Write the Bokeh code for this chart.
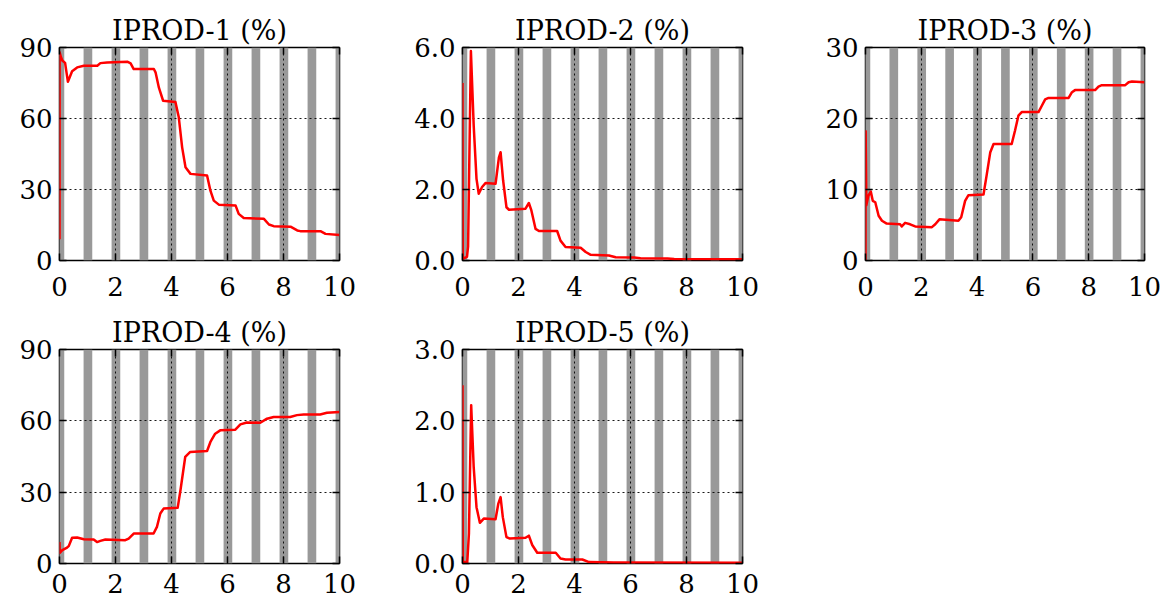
from bokeh.plotting import figure
from bokeh.models import Range1d, FixedTicker, LinearAxis, PrintfTickFormatter, CustomJSTickFormatter
from bokeh.layouts import column, row
from bokeh.embed import file_html
from bokeh.resources import INLINE

FONT = "DejaVu Serif"

# cycle (shaded period) start times
cycles = [0, 1, 2, 3, 4, 5, 6, 7, 8, 9, 10]
x_ticks = [0, 2, 4, 6, 8, 10]

p1_t = [0, 0.005, 0.05, 0.1, 0.2, 0.3, 0.45, 0.63, 0.87, 1.35, 1.46, 1.7, 2.42, 2.54, 2.65,
        3.37, 3.43, 3.55, 3.7, 4.14, 4.26, 4.38, 4.5, 4.68, 5.27, 5.39, 5.51, 5.69, 6.29, 6.4,
        6.58, 7.3, 7.48, 7.65, 8.25, 8.49, 8.6, 9.32, 9.5, 10]
p1_y = [9, 88, 86, 84.5, 83.5, 75.5, 80, 81.6, 82.3, 82.3, 83.4, 83.7, 84, 83.3, 80.9,
        80.9, 79.5, 73, 67.5, 67, 60.5, 47.8, 39.4, 36.6, 35.9, 29.5, 25.3, 23.6, 23.2, 19.7,
        18, 17.6, 15.2, 14.5, 14.3, 12.7, 12.4, 12.4, 11.25, 10.8]

p2_t = [0, 0.01, 0.16, 0.2, 0.3, 0.4, 0.5, 0.58, 0.7, 0.82, 1.18, 1.3, 1.36, 1.45, 1.57,
        1.66, 2.25, 2.37, 2.46, 2.61, 2.73, 3.38, 3.5, 3.68, 4.22, 4.4, 4.58, 5.23, 5.47, 6.13,
        6.36, 7.32, 7.56, 10]
p2_y = [5.0, 0.05, 0.1, 0.4, 5.9, 3.8, 2.3, 1.88, 2.07, 2.18, 2.16, 2.9, 3.05, 2.26, 1.5,
        1.43, 1.46, 1.62, 1.41, 0.89, 0.83, 0.83, 0.56, 0.38, 0.36, 0.24, 0.16, 0.14, 0.09, 0.085,
        0.066, 0.056, 0.04, 0.035]

p3_t = [0, 0.005, 0.03, 0.1, 0.19, 0.26, 0.35, 0.47, 0.59, 0.76, 1.24, 1.3, 1.42, 1.6, 1.78,
        2.38, 2.5, 2.65, 3.33, 3.43, 3.57, 3.69, 4.23, 4.35, 4.47, 4.59, 5.24, 5.36, 5.48, 5.6,
        6.2, 6.32, 6.44, 6.56, 7.28, 7.4, 7.51, 8.23, 8.35, 8.47, 9.31, 9.43, 9.55, 10]
p3_y = [0, 18.2, 7.8, 9.1, 9.7, 8.4, 8.2, 6.3, 5.6, 5.2, 5.1, 4.8, 5.3, 5.1, 4.8,
        4.7, 5.1, 5.8, 5.6, 6.1, 8.4, 9.2, 9.3, 12.2, 15.2, 16.4, 16.4, 18.3, 20.4, 20.9,
        20.9, 21.8, 22.7, 22.9, 22.9, 23.7, 24.0, 24.0, 24.5, 24.7, 24.7, 25.1, 25.2, 25.1]

p4_t = [0, 0.01, 0.1, 0.27, 0.33, 0.45, 0.63, 0.87, 1.22, 1.34, 1.46, 1.64, 2.35, 2.47, 2.65,
        3.36, 3.48, 3.6, 3.72, 4.22, 4.32, 4.49, 4.67, 5.27, 5.39, 5.56, 5.74, 6.28, 6.46, 6.69,
        7.17, 7.41, 7.65, 8.24, 8.48, 8.72, 9.31, 9.55, 10]
p4_y = [9, 4.5, 5.6, 6.7, 7.3, 10.8, 10.9, 10.2, 10.1, 9.0, 9.5, 10.1, 9.8, 10.5, 12.6,
        12.6, 15.4, 21, 23.1, 23.4, 30.8, 44.8, 46.9, 47.3, 51.1, 54.6, 56, 56.3, 58.5, 59.3,
        59.2, 60.9, 61.6, 61.6, 62.4, 62.7, 62.7, 63.4, 63.7]

p5_t = [0, 0.01, 0.17, 0.23, 0.31, 0.4, 0.5, 0.62, 0.76, 1.18, 1.28, 1.36, 1.44, 1.57, 1.69,
        2.25, 2.37, 2.49, 2.67, 3.33, 3.5, 3.68, 4.28, 4.52, 5.41, 10]
p5_y = [2.5, 0.02, 0.02, 0.42, 2.22, 1.35, 0.79, 0.57, 0.63, 0.62, 0.84, 0.93, 0.65, 0.37, 0.35,
        0.36, 0.39, 0.26, 0.15, 0.15, 0.07, 0.056, 0.056, 0.02, 0.014, 0.01]

titles = ["IPROD-1 (%)", "IPROD-2 (%)", "IPROD-3 (%)", "IPROD-4 (%)", "IPROD-5 (%)"]
y_maxes = [90, 6, 30, 90, 3]
y_ticks = [[0, 30, 60, 90], [0, 2, 4, 6], [0, 10, 20, 30], [0, 30, 60, 90], [0, 1, 2, 3]]
y_fmts = ["%d", "%.1f", "%d", "%d", "%.1f"]


def panel(title, t, y, ymax, yticks, yfmt, w, bl, br, h, bt, bb, xstand):
    p = figure(width=w, height=h, x_range=Range1d(0, 10), y_range=Range1d(0, ymax),
               output_backend="svg", toolbar_location=None,
               min_border_left=bl, min_border_right=br, min_border_top=bt, min_border_bottom=bb,
               title=title)
    p.outline_line_color = "black"
    p.outline_line_width = 1.5
    p.outline_line_alpha = 1
    p.background_fill_color = "white"
    p.border_fill_color = "white"

    p.quad(left=[c - 0.14 for c in cycles], right=[c + 0.17 for c in cycles],
           bottom=0, top=ymax, fill_color="#999999", line_color=None, level="image")
    p.line(t, y, line_color="#ff0000", line_width=2.5, line_join="round")

    p.xaxis.ticker = FixedTicker(ticks=x_ticks)
    p.yaxis.ticker = FixedTicker(ticks=yticks)
    p.yaxis.formatter = PrintfTickFormatter(format=yfmt)
    for ax in (p.xaxis[0], p.yaxis[0]):
        ax.axis_line_color = None
        ax.major_tick_in = 7
        ax.major_tick_out = 0
        ax.major_tick_line_width = 1.5
        ax.minor_tick_line_color = None
        ax.major_label_text_font = FONT
        ax.major_label_text_font_size = "26px"
        ax.major_label_text_color = "black"
    p.yaxis.major_label_standoff = 7
    p.xaxis.major_label_standoff = xstand

    for loc, ticks in (("right", yticks), ("above", x_ticks)):
        a = LinearAxis(ticker=FixedTicker(ticks=ticks),
                       formatter=CustomJSTickFormatter(code="return ''"),
                       major_label_text_font_size="1px",
                       axis_line_color=None, major_tick_in=7, major_tick_out=0,
                       major_tick_line_width=1.5, minor_tick_line_color=None,
                       major_label_standoff=0)
        p.add_layout(a, loc)

    for g in (p.xgrid[0], p.ygrid[0]):
        g.grid_line_color = "black"
        g.grid_line_dash = "2 3"
        g.grid_line_width = 1
        g.grid_line_alpha = 0.9
    p.xgrid.ticker = FixedTicker(ticks=x_ticks)
    p.ygrid.ticker = FixedTicker(ticks=yticks)

    p.title.text_font = FONT
    p.title.text_font_size = "27px"
    p.title.text_font_style = "normal"
    p.title.text_color = "black"
    p.title.align = "center"
    p.title.standoff = 4
    return p


series = [(p1_t, p1_y), (p2_t, p2_y), (p3_t, p3_y), (p4_t, p4_y), (p5_t, p5_y)]
widths = [(400, 59, 61), (400, 62, 58), (365, 65, 21)]

figs = []
for i in range(5):
    t, y = series[i]
    w, bl, br = widths[i % 3]
    if i < 3:
        h, bt, bb, xs = 310, 47, 50, 16
    else:
        h, bt, bb, xs = 293, 39, 40, 10
    figs.append(panel(titles[i], t, y, y_maxes[i], y_ticks[i], y_fmts[i],
                      w, bl, br, h, bt, bb, xs))

layout = column(row(figs[0], figs[1], figs[2]), row(figs[3], figs[4]))
open("out.html", "w").write(file_html(layout, INLINE))
